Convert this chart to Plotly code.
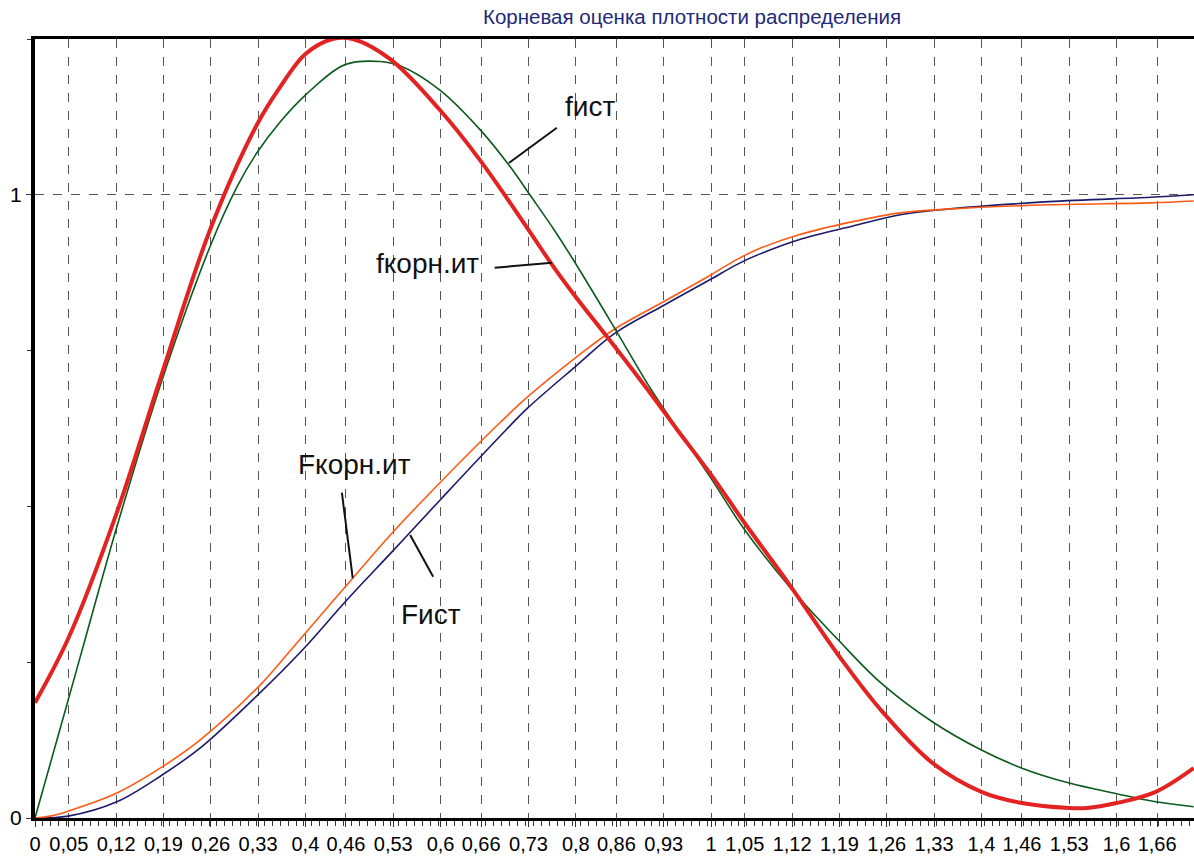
import plotly.graph_objects as go

# ---- data ----
tick_vals = [0, 0.05, 0.12, 0.19, 0.26, 0.33, 0.4, 0.46, 0.53, 0.6, 0.66, 0.73, 0.8, 0.86,
             0.93, 1.0, 1.05, 1.12, 1.19, 1.26, 1.33, 1.4, 1.46, 1.53, 1.6, 1.66]
tick_text = [("%g" % v).replace(".", ",") for v in tick_vals]

# f korn.it (red)
x_fk = [0, 0.05, 0.121, 0.188, 0.259, 0.328, 0.362, 0.40, 0.44, 0.47, 0.525, 0.599,
        0.658, 0.728, 0.766, 0.80, 0.85, 0.91, 0.95, 1.0, 1.05, 1.117, 1.188, 1.25, 1.328,
        1.40, 1.46, 1.53, 1.556, 1.60, 1.658, 1.714]
y_fk = [0.185, 0.29, 0.49, 0.714, 0.944, 1.112, 1.172, 1.226, 1.25, 1.25, 1.218, 1.136,
        1.056, 0.947, 0.886, 0.836, 0.767, 0.682, 0.623, 0.551, 0.473, 0.373, 0.262, 0.175, 0.088,
        0.042, 0.024, 0.016, 0.016, 0.024, 0.042, 0.08]

# f ist (green)
x_fi = [0, 0.049, 0.074, 0.121, 0.188, 0.259, 0.299, 0.328, 0.362, 0.40, 0.459, 0.51, 0.54,
        0.599, 0.658, 0.703, 0.732, 0.769, 0.799, 0.858, 0.91, 0.95, 1.0, 1.05, 1.117, 1.188,
        1.25, 1.328, 1.40, 1.46, 1.53, 1.60, 1.658, 1.714]
y_fi = [0, 0.189, 0.286, 0.467, 0.703, 0.917, 1.013, 1.067, 1.116, 1.160, 1.209, 1.214, 1.207,
        1.168, 1.105, 1.045, 1.0, 0.942, 0.891, 0.785, 0.69, 0.625, 0.545, 0.462, 0.37, 0.286,
        0.218, 0.154, 0.109, 0.08, 0.056, 0.039, 0.026, 0.018]

# F korn.it (orange)
x_Fk = [0, 0.022, 0.049, 0.121, 0.188, 0.244, 0.33, 0.382, 0.459, 0.528, 0.599, 0.677, 0.729,
        0.799, 0.858, 0.929, 0.999, 1.038, 1.07, 1.13, 1.21, 1.28, 1.35, 1.5, 1.65, 1.714]
y_Fk = [0, 0.003, 0.011, 0.04, 0.082, 0.125, 0.21, 0.274, 0.371, 0.457, 0.538, 0.623, 0.676,
        0.738, 0.785, 0.828, 0.871, 0.896, 0.913, 0.936, 0.957, 0.971, 0.977, 0.984, 0.987, 0.99]

# F ist (navy)
x_Fi = [0, 0.049, 0.121, 0.188, 0.244, 0.33, 0.396, 0.459, 0.528, 0.599, 0.697, 0.729, 0.799,
        0.858, 0.929, 0.999, 1.038, 1.07, 1.13, 1.21, 1.28, 1.35, 1.5, 1.65, 1.714]
y_Fi = [0, 0.003, 0.026, 0.069, 0.112, 0.198, 0.27, 0.347, 0.427, 0.51, 0.623, 0.658, 0.724,
        0.778, 0.822, 0.864, 0.888, 0.904, 0.928, 0.95, 0.968, 0.977, 0.989, 0.996, 1.0]

# curve labels: text, text position, leader line (from, to)
labels = ["fист", "fкорн.ит", "Fкорн.ит", "Fист"]
label_pos = [(0.821, 1.141), (0.580, 0.889), (0.472, 0.567), (0.586, 0.326)]
leader_lines = [((0.772, 1.1075), (0.701, 1.051)),
                ((0.680, 0.883), (0.765, 0.891)),
                ((0.454, 0.522), (0.470, 0.385)),
                ((0.555, 0.454), (0.589, 0.387))]

title = "Корневая оценка плотности распределения"

FONT = "Liberation Sans, Arial, sans-serif"

fig = go.Figure()
fig.add_trace(go.Scatter(x=x_Fi, y=y_Fi, mode="lines", line=dict(color="#1c1a6a", width=1.6, shape="spline"), name="Fист"))
fig.add_trace(go.Scatter(x=x_Fk, y=y_Fk, mode="lines", line=dict(color="#ff5a14", width=1.6, shape="spline"), name="Fкорн.ит"))
fig.add_trace(go.Scatter(x=x_fi, y=y_fi, mode="lines", line=dict(color="#0b5a1e", width=1.6, shape="spline"), name="fист"))
fig.add_trace(go.Scatter(x=x_fk, y=y_fk, mode="lines", line=dict(color="#e32222", width=4, shape="spline"), name="fкорн.ит"))

for txt, (tx, ty) in zip(labels, label_pos):
    fig.add_annotation(x=tx, y=ty, xref="x", yref="y", text=txt, showarrow=False,
                       font=dict(family=FONT, size=28, color="#111111"))
for (p0, p1) in leader_lines:
    fig.add_shape(type="line", xref="x", yref="y", x0=p0[0], y0=p0[1], x1=p1[0], y1=p1[1],
                  line=dict(color="#111111", width=2))

fig.update_layout(
    width=1194, height=856,
    margin=dict(l=35, r=0, t=39, b=38),
    paper_bgcolor="white", plot_bgcolor="white",
    showlegend=False,
    title=dict(text=title, x=692 / 1194, y=1 - 17 / 856, xanchor="center", yanchor="middle",
               font=dict(family=FONT, size=20.5, color="#1f2a7a")),
    font=dict(family=FONT, color="black"),
)
fig.update_xaxes(
    range=[0, 1159 / 676], tickvals=tick_vals, ticktext=tick_text,
    showgrid=True, griddash="dash", gridcolor="#555555", gridwidth=1,
    showline=True, linecolor="black", linewidth=3, mirror=True,
    ticks="outside", ticklen=6, tickcolor="#333333", zeroline=False,
    tickfont=dict(family=FONT, size=20, color="black"),
    minor=dict(ticks="outside", ticklen=5, dtick=0.0117, tick0=0, tickcolor="#333333", showgrid=False),
)
fig.update_yaxes(
    range=[0, 1.25], tickvals=[0, 1], ticktext=["0", "1"],
    showgrid=True, griddash="dash", gridcolor="#555555", gridwidth=1,
    showline=True, linecolor="black", linewidth=4,
    ticks="outside", ticklen=5, tickcolor="#333333", zeroline=False,
    tickfont=dict(family=FONT, size=21, color="black"),
    minor=dict(ticks="outside", ticklen=4, dtick=0.25, tick0=0, tickcolor="#333333", showgrid=False),
)

fig.write_html("out.html")
